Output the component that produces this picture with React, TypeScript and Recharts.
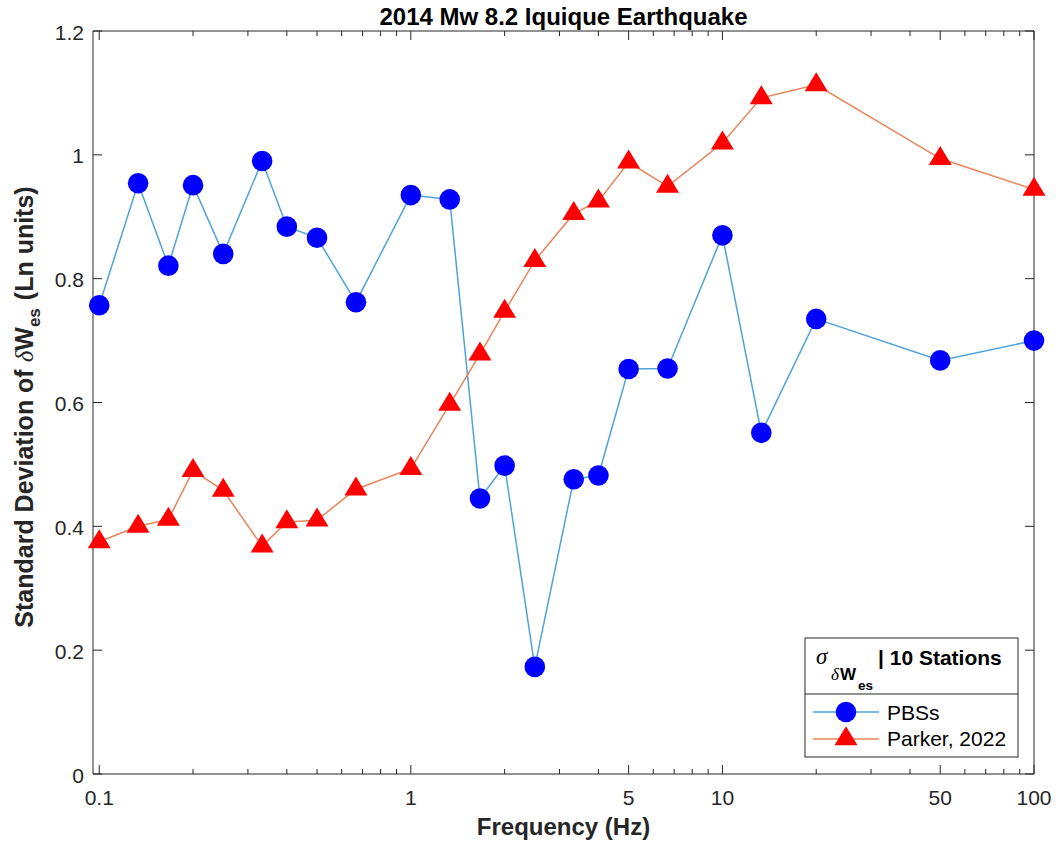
import { LineChart, Line, XAxis, YAxis } from 'recharts'

// frequencies (Hz) shared by both series
const freqs = [0.1, 0.1333, 0.1667, 0.2, 0.25, 0.3333, 0.4, 0.5, 0.6667, 1, 1.333, 1.667, 2, 2.5, 3.333, 4, 5, 6.667, 10, 13.33, 20, 50, 100]
const pbss = [0.757, 0.954, 0.821, 0.951, 0.840, 0.990, 0.884, 0.866, 0.762, 0.935, 0.928, 0.445, 0.498, 0.173, 0.476, 0.482, 0.654, 0.655, 0.870, 0.551, 0.735, 0.668, 0.700]
const parker = [0.375, 0.400, 0.411, 0.490, 0.458, 0.368, 0.407, 0.410, 0.460, 0.493, 0.597, 0.678, 0.747, 0.829, 0.905, 0.925, 0.988, 0.949, 1.019, 1.092, 1.113, 0.994, 0.944]

const xTicks = [0.1, 0.2, 0.3, 0.4, 0.5, 0.6, 0.7, 0.8, 0.9, 1, 2, 3, 4, 5, 6, 7, 8, 9, 10, 20, 30, 40, 50, 60, 70, 80, 90, 100]
const xLabelled = [0.1, 1, 5, 10, 50, 100]
const yTicks = [0, 0.2, 0.4, 0.6, 0.8, 1, 1.2]

const data = freqs.map((f, i) => ({ f, pbss: pbss[i], parker: parker[i] }))

const AXIS = '#262626'
const FONT = '"Liberation Sans", Arial, Helvetica, sans-serif'
const SERIF = '"Liberation Serif", "Times New Roman", serif'
const BLUE_LINE = '#4fa3da'
const RED_LINE = '#e8845c'

function CircleMark({ cx, cy }: { cx: number; cy: number }) {
    return <circle cx={cx} cy={cy} r={10.3} fill="#0000ff" />
}

function TriangleMark({ cx, cy }: { cx: number; cy: number }) {
    const w = 11.5
    const h = 19
    return (
        <polygon
            points={`${cx},${cy - (2 * h) / 3} ${cx - w},${cy + h / 3} ${cx + w},${cy + h / 3}`}
            fill="#ff0000"
        />
    )
}

// axes have a 1px band, so tick props sit on the axis line itself
function BottomTick(props: any) {
    const { x, y, payload } = props
    const major = xLabelled.includes(payload.value)
    return (
        <g>
            <line x1={x} x2={x} y1={y} y2={y - (major ? 9 : 5)} stroke={AXIS} strokeWidth={1} />
            {major && (
                <text x={x} y={y + 30.5} textAnchor="middle" fontSize={21} fontFamily={FONT} fill={AXIS}>
                    {String(payload.value)}
                </text>
            )}
        </g>
    )
}

function TopTick(props: any) {
    const { x, y, payload } = props
    const major = xLabelled.includes(payload.value)
    return <line x1={x} x2={x} y1={y} y2={y + (major ? 9 : 5)} stroke={AXIS} strokeWidth={1} />
}

function LeftTick(props: any) {
    const { x, y, payload } = props
    return (
        <g>
            <line x1={x} x2={x + 9} y1={y} y2={y} stroke={AXIS} strokeWidth={1} />
            <text x={x - 9} y={y + 8.5} textAnchor="end" fontSize={21} fontFamily={FONT} fill={AXIS}>
                {String(payload.value)}
            </text>
        </g>
    )
}

function RightTick(props: any) {
    const { x, y } = props
    return <line x1={x} x2={x - 9} y1={y} y2={y} stroke={AXIS} strokeWidth={1} />
}

function Labels() {
    return (
        <svg
            width={1064}
            height={844}
            style={{ position: 'absolute', left: 0, top: 0, pointerEvents: 'none' }}
        >
            <text x={563.5} y={25} textAnchor="middle" fontSize={24} fontWeight="bold" fontFamily={FONT} fill="#000">
                2014 Mw 8.2 Iquique Earthquake
            </text>
            <text x={563.5} y={835} textAnchor="middle" fontSize={24} fontWeight="bold" fontFamily={FONT} fill="#262626">
                Frequency (Hz)
            </text>
            <text
                transform="translate(33,407) rotate(-90)"
                textAnchor="middle"
                fontSize={25}
                fontWeight="bold"
                fontFamily={FONT}
                fill="#262626"
            >
                Standard Deviation of{' '}
                <tspan fontFamily={SERIF} fontStyle="italic" fontWeight="normal">δ</tspan>
                W
                <tspan fontSize={17} dy={7}>es</tspan>
                <tspan dy={-7} dx={8}>(Ln units)</tspan>
            </text>

            {/* legend */}
            <rect x={805} y={638} width={213} height={119} fill="#fff" stroke={AXIS} strokeWidth={1} />
            <line x1={805} x2={1018} y1={694} y2={694} stroke={AXIS} strokeWidth={1} />
            <text x={816} y={664} fontSize={23} fontFamily={SERIF} fontStyle="italic" fill="#000">σ</text>
            <text x={831} y={680} fontSize={17} fontFamily={SERIF} fontStyle="italic" fill="#000">δ</text>
            <text x={840} y={680} fontSize={17} fontWeight="bold" fontFamily={FONT} fill="#000">W</text>
            <text x={858} y={690} fontSize={13.5} fontWeight="bold" fontFamily={FONT} fill="#000">es</text>
            <text x={878} y={665} fontSize={21} fontWeight="bold" fontFamily={FONT} fill="#000">| 10 Stations</text>

            <line x1={813} x2={879} y1={712} y2={712} stroke={BLUE_LINE} strokeWidth={1.5} />
            <CircleMark cx={846} cy={712} />
            <text x={887} y={720} fontSize={21} fontFamily={FONT} fill="#000">PBSs</text>

            <line x1={813} x2={879} y1={739} y2={739} stroke={RED_LINE} strokeWidth={1.5} />
            <TriangleMark cx={846} cy={739} />
            <text x={887} y={746} fontSize={21} fontFamily={FONT} fill="#000">Parker, 2022</text>
        </svg>
    )
}

export default function App() {
    const xDomain: [number, number] = [0.0955, 100]
    const yDomain: [number, number] = [0, 1.2]
    return (
        <div style={{ position: 'absolute', left: 0, top: 0, width: 1064, height: 844, background: '#fff' }}>
            <LineChart width={1064} height={844} data={data} margin={{ top: 30, right: 29, bottom: 69, left: 92 }}>
                <XAxis
                    dataKey="f"
                    type="number"
                    scale="log"
                    domain={xDomain}
                    ticks={xTicks}
                    interval={0}
                    height={1}
                    tickSize={0}
                    tickMargin={0}
                    tickLine={false}
                    axisLine={{ stroke: AXIS, strokeWidth: 1 }}
                    tick={(p: any) => <BottomTick {...p} />}
                />
                <XAxis
                    xAxisId="top"
                    orientation="top"
                    dataKey="f"
                    type="number"
                    scale="log"
                    domain={xDomain}
                    allowDataOverflow
                    ticks={xTicks}
                    interval={0}
                    height={1}
                    tickSize={0}
                    tickMargin={0}
                    tickLine={false}
                    axisLine={{ stroke: AXIS, strokeWidth: 1 }}
                    tick={(p: any) => <TopTick {...p} />}
                />
                <YAxis
                    type="number"
                    domain={yDomain}
                    ticks={yTicks}
                    interval={0}
                    width={1}
                    tickSize={0}
                    tickMargin={0}
                    tickLine={false}
                    axisLine={{ stroke: AXIS, strokeWidth: 1 }}
                    tick={(p: any) => <LeftTick {...p} />}
                />
                <YAxis
                    yAxisId="right"
                    orientation="right"
                    type="number"
                    domain={yDomain}
                    allowDataOverflow
                    ticks={yTicks}
                    interval={0}
                    width={1}
                    tickSize={0}
                    tickMargin={0}
                    tickLine={false}
                    axisLine={{ stroke: AXIS, strokeWidth: 1 }}
                    tick={(p: any) => <RightTick {...p} />}
                />
                <Line
                    dataKey="pbss"
                    stroke={BLUE_LINE}
                    strokeWidth={1.5}
                    isAnimationActive={false}
                    activeDot={false}
                    dot={(p: any) => <CircleMark key={`c${p.index}`} cx={p.cx} cy={p.cy} />}
                />
                <Line
                    dataKey="parker"
                    stroke={RED_LINE}
                    strokeWidth={1.5}
                    isAnimationActive={false}
                    activeDot={false}
                    dot={(p: any) => <TriangleMark key={`t${p.index}`} cx={p.cx} cy={p.cy} />}
                />
            </LineChart>
            <Labels />
        </div>
    )
}
